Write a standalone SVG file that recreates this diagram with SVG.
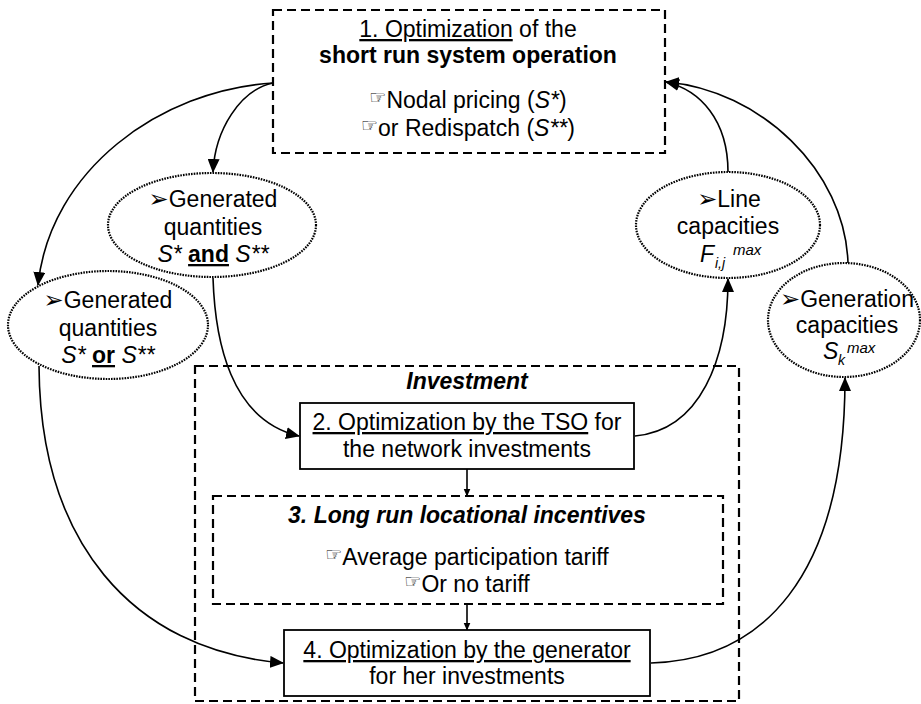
<svg xmlns="http://www.w3.org/2000/svg" width="921" height="704" viewBox="0 0 921 704">
<defs>
<marker id="ah" markerUnits="userSpaceOnUse" markerWidth="14" markerHeight="12" refX="13" refY="6" orient="auto"><path d="M0,0 L14,6 L0,12 z" fill="#000"/></marker>
<marker id="as" markerUnits="userSpaceOnUse" markerWidth="8" markerHeight="8" refX="7.5" refY="3.5" orient="auto"><path d="M0,0 L8,3.5 L0,7 z" fill="#000"/></marker>
</defs>
<style>
text{font-family:"Liberation Sans",Arial,sans-serif;font-size:23px;fill:#000}
.c{text-anchor:middle}
.dash{fill:none;stroke:#000;stroke-width:2.2;stroke-dasharray:9 5}
.dashw{fill:#fff;stroke:#000;stroke-width:2.2;stroke-dasharray:9 5}
.solid{fill:#fff;stroke:#000;stroke-width:1.8}
.dot{fill:#fff;stroke:#000;stroke-width:2.2;stroke-dasharray:1.6 1.1}
.conn{fill:none;stroke:#000;stroke-width:1.6}
.b{font-weight:bold}
.i{font-style:italic}
.u{text-decoration:underline}
.hand{font-family:"DejaVu Sans",sans-serif;font-size:19px}
.arr{font-family:"DejaVu Sans",sans-serif;font-size:24px}
.sm{font-size:14px}
.sp{font-size:15px}
</style>
<rect width="921" height="704" fill="#fff"/>

<g id="investment">
<rect class="dash" x="195" y="366" width="544" height="335"/>
<text class="c b i" x="467" y="389">Investment</text>
</g>

<g id="connectors">
<path class="conn" d="M273,83 C240,90 215,130 213,172" marker-end="url(#ah)"/>
<path class="conn" d="M273,83 C160,90 50,170 38,285" marker-end="url(#ah)"/>
<path class="conn" d="M213,278 C215,340 230,420 299,436" marker-end="url(#ah)"/>
<path class="conn" d="M39,366 C40,540 130,650 283,663" marker-end="url(#ah)"/>
<path class="conn" d="M651,663 C760,660 845,580 845,378" marker-end="url(#ah)"/>
<path class="conn" d="M635,436 C700,430 728,360 728,279" marker-end="url(#ah)"/>
<path class="conn" d="M728,172 C728,120 700,90 666,82" marker-end="url(#ah)"/>
<path class="conn" d="M848,263 C845,170 760,90 666,82" marker-end="url(#ah)"/>
<path class="conn" d="M467,469 L467,496" marker-end="url(#as)"/>
<path class="conn" d="M467,604 L467,630" marker-end="url(#as)"/>
</g>

<g id="box1">
<rect class="dashw" x="273" y="10" width="392" height="143"/>
<text class="c" x="468" y="37"><tspan class="u">1. Optimization</tspan> of the</text>
<text class="c b" x="468" y="63">short run system operation</text>
<text class="c" x="468" y="108"><tspan class="hand" dy="-4">☞</tspan><tspan dy="4">Nodal pricing (</tspan><tspan class="i">S*</tspan>)</text>
<text class="c" x="468" y="136"><tspan class="hand" dy="-4">☞</tspan><tspan dy="4">or Redispatch (</tspan><tspan class="i">S**</tspan>)</text>
</g>

<g id="gen-and">
<ellipse class="dot" cx="212" cy="225" rx="104" ry="52"/>
<text class="c" x="213" y="207"><tspan class="arr">➢</tspan>Generated</text>
<text class="c" x="213" y="235">quantities</text>
<text class="c" x="213" y="262"><tspan class="i">S*</tspan> <tspan class="b u">and</tspan> <tspan class="i">S**</tspan></text>
</g>

<g id="gen-or">
<ellipse class="dot" cx="108" cy="325" rx="100" ry="54"/>
<text class="c" x="108" y="308"><tspan class="arr">➢</tspan>Generated</text>
<text class="c" x="108" y="336">quantities</text>
<text class="c" x="108" y="363"><tspan class="i">S*</tspan> <tspan class="b u">or</tspan> <tspan class="i">S**</tspan></text>
</g>

<g id="line-cap">
<ellipse class="dot" cx="728" cy="225" rx="92" ry="53"/>
<text class="c" x="729" y="207"><tspan class="arr">➢</tspan>Line</text>
<text class="c" x="728" y="234">capacities</text>
<text class="i" x="700" y="262">F</text>
<text class="i sm" x="715" y="268">i,j</text>
<text class="i sp" x="733" y="255">max</text>
</g>

<g id="gen-cap">
<ellipse class="dot" cx="844" cy="320" rx="76" ry="57"/>
<text class="c" x="847" y="307"><tspan class="arr">➢</tspan>Generation</text>
<text class="c" x="847" y="333">capacities</text>
<text class="i" x="823" y="359">S</text>
<text class="i sm" x="838" y="365">k</text>
<text class="i sp" x="847" y="353">max</text>
</g>

<g id="box2">
<rect class="solid" x="300" y="403" width="334" height="66"/>
<text class="c" x="467" y="430"><tspan class="u">2. Optimization by the TSO</tspan> for</text>
<text class="c" x="467" y="457">the network investments</text>
</g>

<g id="box3">
<rect class="dashw" x="213" y="496" width="510" height="108"/>
<text class="c b i" x="467" y="523">3. Long run locational incentives</text>
<text class="c" x="467" y="565"><tspan class="hand" dy="-4">☞</tspan><tspan dy="4">Average participation tariff</tspan></text>
<text class="c" x="467" y="592"><tspan class="hand" dy="-4">☞</tspan><tspan dy="4">Or no tariff</tspan></text>
</g>

<g id="box4">
<rect class="solid" x="284" y="630" width="366" height="66"/>
<text class="c" x="467" y="658"><tspan class="u">4. Optimization by the generator</tspan></text>
<text class="c" x="467" y="684">for her investments</text>
</g>
</svg>
